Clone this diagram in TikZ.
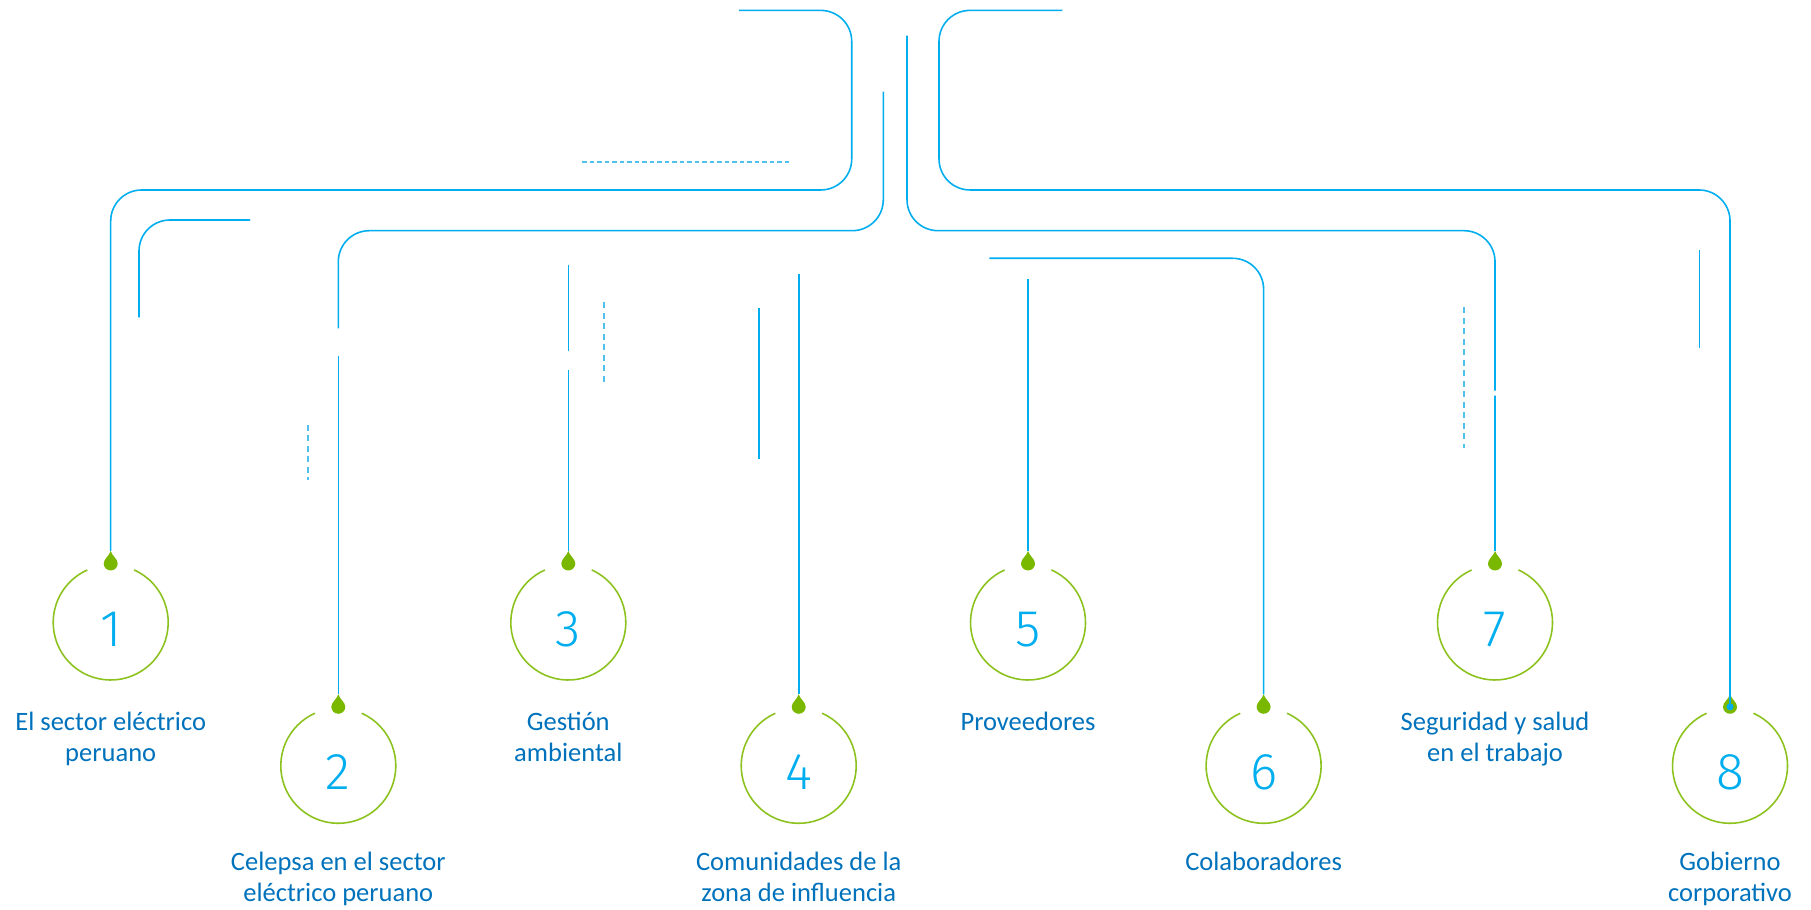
\documentclass[tikz,border=0pt]{standalone}
\usepackage{fontspec}
\setmainfont{Carlito}
\newfontfamily\numfont{Fira Sans Light}
\definecolor{lineblue}{RGB}{0,174,239}
\definecolor{dashblue}{RGB}{80,192,236}
\definecolor{leaf}{RGB}{122,184,0}
\definecolor{ringgreen}{RGB}{140,194,30}
\definecolor{textblue}{RGB}{0,114,188}
\tikzset{
  link/.style={lineblue, line width=0.45pt, rounded corners=3.1mm},
  dashlink/.style={dashblue, line width=0.6pt, dash pattern=on 0.06cm off 0.045cm},
  ring/.style={ringgreen, line width=0.45pt},
  num/.style={circle, minimum size=1.15cm, inner sep=0pt, text=lineblue,
    font=\numfont\fontsize{14.7}{15}\selectfont, text height=0.477cm, text depth=0pt},
  caption/.style={text=textblue, align=center, anchor=base, inner sep=0pt,
    font=\fontsize{7.55}{8.82}\selectfont},
  drop/.pic={\fill[leaf] (0,0) .. controls (0.015,-0.05) and (0.07,-0.08) .. (0.07,-0.125)
    arc[start angle=0, end angle=-180, radius=0.07] .. controls (-0.07,-0.08) and (-0.015,-0.05) .. cycle;}
}
\begin{document}
\begin{tikzpicture}
\useasboundingbox (0,0) rectangle (18.11,9.10);
\foreach \i/\x/\y in {1/1.107/2.875,2/3.383/1.442,3/5.683/2.875,4/7.987/1.442,
                      5/10.28/2.875,6/12.636/1.442,7/14.95/2.875,8/17.30/1.442}{
  \node[num] (n\i) at (\x,\y) {\i};
  \draw[ring] (n\i.center) ++(66:0.575) arc[start angle=66, end angle=-246, radius=0.575];
  \path (n\i.center) ++(0,0.715) coordinate (t\i);
  \pic at (t\i) {drop};
}
\path (t8) ++(0,-0.125) coordinate (o8);

\coordinate (s1) at (7.39,8.996);
\coordinate (s2) at (8.833,8.183);
\coordinate (s3) at (5.683,6.45);
\coordinate (s4) at (7.987,6.36);
\coordinate (s5) at (10.28,6.305);
\coordinate (s6) at (9.893,6.517);
\coordinate (s7) at (9.07,8.743);
\coordinate (s8) at (10.623,8.996);

\draw[link] (s1) -| (8.517,7.20) -| (t1);
\draw[link] (s2) |- (3.383,6.793) -- (3.383,5.817);
\draw[link] (3.383,5.54) -- (t2);
\draw[link] (s3) -- (5.683,5.593) (5.683,5.40) -- (t3);
\draw[link] (s4) -- (t4);
\draw[link] (s5) -- (t5);
\draw[link] (s6) -| (t6);
\draw[link] (s7) |- (14.95,6.793) -- (14.95,5.193) (14.95,5.143) -- (t7);
\draw[link] (s8) -| (9.39,7.20) -| (o8);
\fill[lineblue] (o8) circle (0.035);

\draw[link] (2.50,6.90) -| (1.39,5.927);
\draw[link] (7.59,6.02) -- (7.59,4.51);
\draw[link] (16.993,6.60) -- (16.993,5.617);
\draw[dashlink, dash pattern=on 0.045cm off 0.03cm] (5.82,7.483) -- (7.90,7.483);
\draw[dashlink] (3.083,4.85) -- (3.083,4.30);
\draw[dashlink] (6.037,6.077) -- (6.037,5.26);
\draw[dashlink] (14.64,6.027) -- (14.64,4.617);

\node[caption] (l1) at (1.107,1.48) {El sector eléctrico\\peruano};
\node[caption] (l2) at (3.383,0.083) {Celepsa en el sector\\eléctrico peruano};
\node[caption] (l3) at (5.683,1.48) {Gestión\\ambiental};
\node[caption] (l4) at (7.987,0.083) {Comunidades de la\\zona de influencia};
\node[caption] (l5) at (10.28,1.79) {Proveedores};
\node[caption] (l6) at (12.636,0.393) {Colaboradores};
\node[caption] (l7) at (14.95,1.48) {Seguridad y salud\\en el trabajo};
\node[caption] (l8) at (17.30,0.083) {Gobierno\\corporativo};
\end{tikzpicture}
\end{document}
